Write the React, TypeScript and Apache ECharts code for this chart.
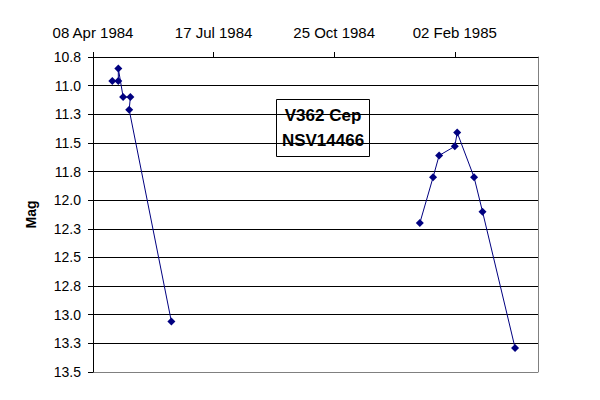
import React, { useEffect, useRef } from "react";
import * as echarts from "echarts";

// Observations (date, visual magnitude)
const season1Dates = ["1984-04-24", "1984-04-29", "1984-04-29", "1984-05-03", "1984-05-09", "1984-05-08", "1984-06-12"];
const season1Mags = [10.96, 10.96, 10.85, 11.1, 11.1, 11.21, 13.06];
const season2Dates = ["1985-01-04", "1985-01-15", "1985-01-20", "1985-02-02", "1985-02-04", "1985-02-18", "1985-02-25", "1985-03-24"];
const season2Mags = [12.2, 11.8, 11.61, 11.53, 11.41, 11.8, 12.1, 13.29];

// Axis settings
const axisStartDate = "1984-04-08";
const axisEndDate = "1985-04-12";
const xTickDates = ["1984-04-08", "1984-07-17", "1984-10-25", "1985-02-02"];
const magMin = 10.75;
const magMax = 13.5;
const magStep = 0.25;

const titleLines = ["V362 Cep", "NSV14466"];

const MONTHS = ["Jan", "Feb", "Mar", "Apr", "May", "Jun", "Jul", "Aug", "Sep", "Oct", "Nov", "Dec"];
const toUTC = (s: string) => {
  const [y, m, d] = s.split("-").map(Number);
  return Date.UTC(y, m - 1, d);
};
const BASE = toUTC(axisStartDate);
const dayOf = (s: string) => Math.round((toUTC(s) - BASE) / 86400000);
const fmtDay = (v: number) => {
  const dt = new Date(BASE + Math.round(v) * 86400000);
  const dd = String(dt.getUTCDate()).padStart(2, "0");
  return `${dd} ${MONTHS[dt.getUTCMonth()]} ${dt.getUTCFullYear()}`;
};

const FONT = "Arial, 'Liberation Sans', sans-serif";

export default function App() {
  const ref = useRef<HTMLDivElement>(null);
  useEffect(() => {
    if (!ref.current) return;
    const chart = echarts.init(ref.current, null, { renderer: "svg" });
    const xTicks = xTickDates.map(dayOf);
    const s1 = season1Dates.map((d, i) => [dayOf(d), season1Mags[i]]);
    const s2 = season2Dates.map((d, i) => [dayOf(d), season2Mags[i]]);
    const nLines = Math.round((magMax - magMin) / magStep) + 1;
    const splitColors = Array.from({ length: nLines }, (_, i) => (i === nLines - 1 ? "#808080" : "#000000"));

    const seriesCommon = {
      type: "line" as const,
      xAxisIndex: 0,
      yAxisIndex: 0,
      symbol: "diamond",
      symbolSize: 8,
      showSymbol: true,
      itemStyle: { color: "#000080" },
      lineStyle: { color: "#000080", width: 1 },
      emphasis: { disabled: true },
    };

    chart.setOption({
      animation: false,
      backgroundColor: "#ffffff",
      textStyle: { fontFamily: FONT },
      grid: { left: 93, top: 57, right: 62, bottom: 28, outerBoundsMode: "none", containLabel: false },
      xAxis: {
        type: "value",
        position: "top",
        min: 0,
        max: dayOf(axisEndDate),
        interval: 100,
        axisLine: { show: true, lineStyle: { color: "#000", width: 1 } },
        axisTick: { show: true, inside: false, length: 5, lineStyle: { color: "#000" }, customValues: xTicks },
        axisLabel: {
          show: true,
          customValues: xTicks,
          margin: 17,
          color: "#000",
          fontSize: 15,
          fontFamily: FONT,
          formatter: (v: number) => (xTicks.includes(Math.round(v)) ? fmtDay(v) : ""),
        },
        splitLine: { show: false },
      },
      yAxis: [
        {
          type: "value",
          inverse: true,
          min: magMin,
          max: magMax,
          interval: magStep,
          name: "Mag",
          nameLocation: "middle",
          nameGap: 55,
          nameTextStyle: { fontSize: 14, fontWeight: "bold", color: "#000", fontFamily: FONT },
          axisLine: { show: true, lineStyle: { color: "#000", width: 1 } },
          axisTick: { show: true, inside: false, length: 5, lineStyle: { color: "#000" } },
          axisLabel: {
            color: "#000",
            fontSize: 14,
            margin: 12,
            fontFamily: FONT,
            formatter: (v: number) => (Math.round(v * 10) / 10).toFixed(1),
          },
          splitLine: { show: true, lineStyle: { color: splitColors, width: 1 } },
        },
        {
          type: "value",
          position: "right",
          inverse: true,
          min: magMin,
          max: magMax,
          interval: magStep,
          axisLine: { show: true, lineStyle: { color: "#808080", width: 1 } },
          axisTick: { show: false },
          axisLabel: { show: false },
          splitLine: { show: false },
        },
      ],
      series: [
        { ...seriesCommon, name: "1984", data: s1 },
        { ...seriesCommon, name: "1985", data: s2 },
      ],
      graphic: [
        {
          type: "group",
          left: 276,
          top: 99,
          children: [
            {
              type: "rect",
              shape: { x: 0.5, y: 0.5, width: 93, height: 57 },
              style: { fill: "#ffffff", stroke: "#000000", lineWidth: 1 },
            },
            {
              type: "text",
              x: 47,
              y: 29,
              style: {
                text: titleLines.join("\n"),
                font: `bold 17px ${FONT}`,
                fill: "#000",
                align: "center",
                verticalAlign: "middle",
                lineHeight: 25,
              },
            },
          ],
        },
      ],
    });
    return () => chart.dispose();
  }, []);
  return <div ref={ref} style={{ position: "fixed", left: 0, top: 0, width: 600, height: 400 }} />;
}
